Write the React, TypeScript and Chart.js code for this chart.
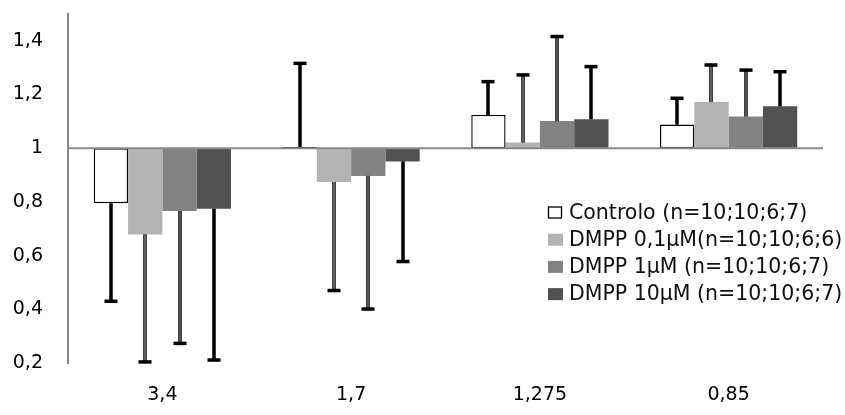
import React, { useEffect, useRef } from 'react';
import { Chart, registerables } from 'chart.js';

Chart.register(...registerables);

// ---- data ----
const categories = ['3,4', '1,7', '1,275', '0,85'];
const seriesNames = [
  'Controlo (n=10;10;6;7)',
  'DMPP 0,1\u00B5M(n=10;10;6;6)',
  'DMPP 1\u00B5M (n=10;10;6;7)',
  'DMPP 10\u00B5M (n=10;10;6;7)',
];
const controlo = [0.795, 1.005, 1.124, 1.088];
const dmpp01 = [0.679, 0.874, 1.021, 1.172];
const dmpp1 = [0.766, 0.897, 1.101, 1.118];
const dmpp10 = [0.775, 0.951, 1.108, 1.156];

const controloSD = [0.365, 0.311, 0.124, 0.098];
const dmpp01SD = [0.475, 0.404, 0.252, 0.138];
const dmpp1SD = [0.493, 0.496, 0.315, 0.173];
const dmpp10SD = [0.564, 0.373, 0.196, 0.129];

const baseline = 1;
const yTicks = [0.2, 0.4, 0.6, 0.8, 1, 1.2, 1.4];

const values = [controlo, dmpp01, dmpp1, dmpp10];
const sds = [controloSD, dmpp01SD, dmpp1SD, dmpp10SD];
const fills = ['#ffffff', '#b3b3b3', '#828282', '#525252'];
const errInner = [null, '#a0a0a0', '#8a8a8a', null];

const FONT = 'DejaVu Sans';

const overlayPlugin = {
  id: 'overlay',
  afterDatasetsDraw(chart: any) {
    const ctx = chart.ctx as CanvasRenderingContext2D;
    const ys = chart.scales.y;
    const area = chart.chartArea;
    // baseline at 1
    const yb = ys.getPixelForValue(baseline);
    ctx.save();
    ctx.strokeStyle = '#8a8a8a';
    ctx.lineWidth = 2;
    ctx.beginPath();
    ctx.moveTo(area.left, yb);
    ctx.lineTo(area.right, yb);
    ctx.stroke();

    // error bars
    chart.data.datasets.forEach((_ds: any, i: number) => {
      const meta = chart.getDatasetMeta(i);
      meta.data.forEach((bar: any, j: number) => {
        const v = values[i][j];
        const dir = v >= baseline ? 1 : -1;
        const end = v + dir * sds[i][j];
        const x = Math.round(bar.x);
        const y0 = ys.getPixelForValue(v);
        const y1 = ys.getPixelForValue(end);
        ctx.strokeStyle = '#000';
        ctx.lineWidth = 3.5;
        ctx.beginPath();
        ctx.moveTo(x, y0);
        ctx.lineTo(x, y1);
        ctx.stroke();
        const inner = errInner[i];
        if (inner) {
          ctx.strokeStyle = inner;
          ctx.lineWidth = 1.2;
          ctx.beginPath();
          ctx.moveTo(x, y0);
          ctx.lineTo(x, y1 - dir * 2);
          ctx.stroke();
        }
        ctx.fillStyle = '#000';
        ctx.fillRect(x - 6.5, y1 - 1.75, 13, 3.5);
      });
    });
    ctx.restore();
  },
  afterDraw(chart: any) {
    const ctx = chart.ctx as CanvasRenderingContext2D;
    ctx.save();
    const x0 = 548;
    const yc0 = 212.5;
    const step = 27.2;
    ctx.font = `20.5px "${FONT}"`;
    ctx.textBaseline = 'middle';
    ctx.textAlign = 'left';
    seriesNames.forEach((name, i) => {
      const yc = yc0 + i * step;
      if (i === 0) {
        ctx.fillStyle = '#fff';
        ctx.fillRect(x0, yc - 6, 14, 12);
        ctx.strokeStyle = '#000';
        ctx.lineWidth = 1.3;
        ctx.strokeRect(x0 + 0.5, yc - 5.5, 13, 11);
      } else {
        ctx.fillStyle = fills[i];
        ctx.fillRect(x0, yc - 6, 15, 12);
      }
      ctx.fillStyle = '#111';
      ctx.fillText(name, 569, yc + 1);
    });
    ctx.restore();
  },
};

export default function App() {
  const ref = useRef<HTMLCanvasElement | null>(null);
  useEffect(() => {
    if (!ref.current) return;
    const chart = new Chart(ref.current, {
      type: 'bar',
      data: {
        labels: categories,
        datasets: values.map((vals, i) => ({
          label: seriesNames[i],
          data: vals.map((v) => [baseline, v]),
          backgroundColor: fills[i],
          borderColor: i === 0 ? '#000' : fills[i],
          borderWidth: i === 0 ? 1.4 : 0,
          borderSkipped: false,
          categoryPercentage: 0.727,
          barPercentage: 1,
        })) as any,
      },
      options: {
        animation: false,
        responsive: false,
        maintainAspectRatio: false,
        layout: { padding: { top: 14, right: 22, left: 0, bottom: 0 } },
        plugins: {
          legend: { display: false },
          tooltip: { enabled: false },
        },
        scales: {
          x: {
            afterFit: (s: any) => {
              s.height = 52;
              s.paddingLeft = 0;
              s.paddingRight = 0;
            },
            ticks: {
              padding: 21,
              color: '#000',
              font: { family: FONT, size: 19 },
            },
            grid: { display: false, drawTicks: false },
            border: { display: false },
          },
          y: {
            min: 0.2,
            max: 1.5,
            afterFit: (s: any) => {
              s.width = 68;
              s.paddingTop = 0;
              s.paddingBottom = 0;
            },
            afterBuildTicks: (s: any) => {
              s.ticks = yTicks.map((v) => ({ value: v }));
            },
            ticks: {
              padding: 25,
              color: '#000',
              font: { family: FONT, size: 19 },
              callback: (v: any) => String(Number(Number(v).toFixed(1))).replace('.', ','),
            },
            grid: { display: false, drawTicks: false },
            border: { display: true, color: '#888', width: 2 },
          },
        },
      },
      plugins: [overlayPlugin],
    });
    return () => chart.destroy();
  }, []);
  return (
    <div style={{ position: 'absolute', left: 0, top: 0, width: 845, height: 415, background: '#fff' }}>
      <canvas ref={ref} width={845} height={415} style={{ display: 'block' }} />
    </div>
  );
}
